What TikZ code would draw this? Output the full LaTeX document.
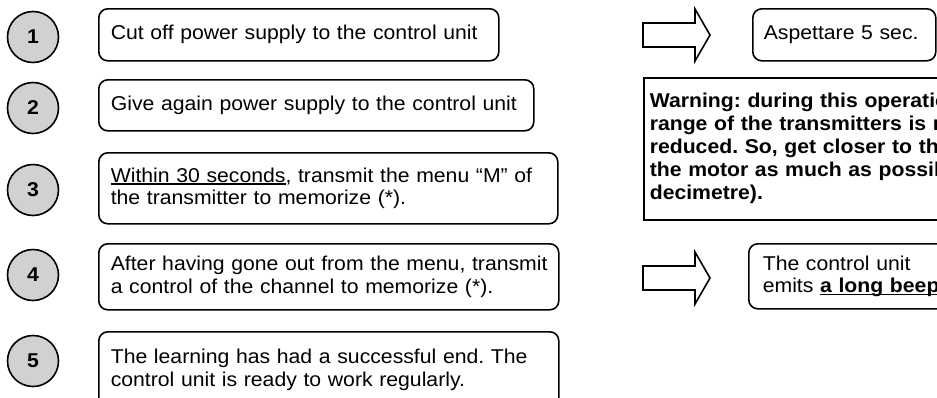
\documentclass[tikz,border=0pt]{standalone}
\usepackage{fontspec}
\setmainfont{Liberation Sans}[FakeStretch=1.06]
\frenchspacing

% underline at a fixed depth below the baseline
\newcommand{\baseul}[1]{\leavevmode\setbox0\hbox{#1}\rlap{\rule[-2.4pt]{\wd0}{1.3pt}}\box0}

\tikzset{
  stepnum/.style={circle, draw, line width=1.6pt, fill=black!18, minimum size=51pt,
    inner sep=0pt, font=\fontsize{20}{23}\selectfont\bfseries},
  textbox/.style={draw, line width=1.6pt, rounded corners=9pt, anchor=north west,
    align=left, inner xsep=12pt, inner ysep=0pt, font=\fontsize{20}{22.5}\selectfont},
  warnbox/.style={draw, line width=1.6pt, anchor=north west, align=left,
    inner xsep=6pt, inner ysep=0pt, font=\fontsize{20}{23}\selectfont\bfseries},
  blockarrow/.style={draw, line width=1.6pt, line join=miter, fill=white},
}

\begin{document}
\begin{tikzpicture}[x=1pt, y=-1pt]
  \useasboundingbox (0,0) rectangle (937,397);
  \clip (0,0) rectangle (937,397);

  % numbered steps
  \node[stepnum] (n1) at (33,37)  {1};
  \node[stepnum] (n2) at (33,108) {2};
  \node[stepnum] (n3) at (33,190) {3};
  \node[stepnum] (n4) at (33,275) {4};
  \node[stepnum] (n5) at (33,361) {5};

  % step descriptions
  \node[textbox, text width=376pt, minimum height=52pt] (b1) at (98,8)
    {\mbox{Cut off power supply to the control unit}};
  \node[textbox, text width=411pt, minimum height=51pt] (b2) at (98,79)
    {\mbox{Give again power supply to the control unit}};
  \node[textbox, text width=435pt, minimum height=71pt] (b3) at (98,152)
    {\mbox{\baseul{Within 30 seconds}, transmit the menu “M” of}\\
     \mbox{the transmitter to memorize (*).}};
  \node[textbox, text width=436pt, minimum height=66pt] (b4) at (98,243)
    {\mbox{After having gone out from the menu, transmit}\\
     \mbox{a control of the channel to memorize (*).}};
  \node[textbox, text width=436pt, minimum height=76pt] (b5) at (98,331)
    {\mbox{The learning has had a successful end. The}\\
     \mbox{control unit is ready to work regularly.}};

  % results on the right
  \node[textbox, inner xsep=11pt, text width=161pt, minimum height=52pt] (r1) at (752,8)
    {\mbox{Aspettare 5 sec.}};
  \node[warnbox, text width=400pt, minimum height=142pt] (warn) at (643,77)
    {Warning: during this operation\\range of the transmitters is much\\
     reduced. So, get closer to the\\the motor as much as possible\\decimetre).};
  \node[textbox, inner xsep=14pt, text width=300pt, minimum height=65pt] (r4) at (748,243)
    {The control unit\\emits \textbf{\baseul{a long beep}}};

  % block arrows leading to the results
  \coordinate (a1) at (643,35);
  \coordinate (a4) at (643,278);
  \foreach \a in {a1,a4} {
    \draw[blockarrow, shift={(\a)}]
      (0,-12) -- (52,-12) -- (52,-26) -- (67,0) -- (52,26) -- (52,12) -- (0,12) -- cycle;
  }
\end{tikzpicture}
\end{document}
